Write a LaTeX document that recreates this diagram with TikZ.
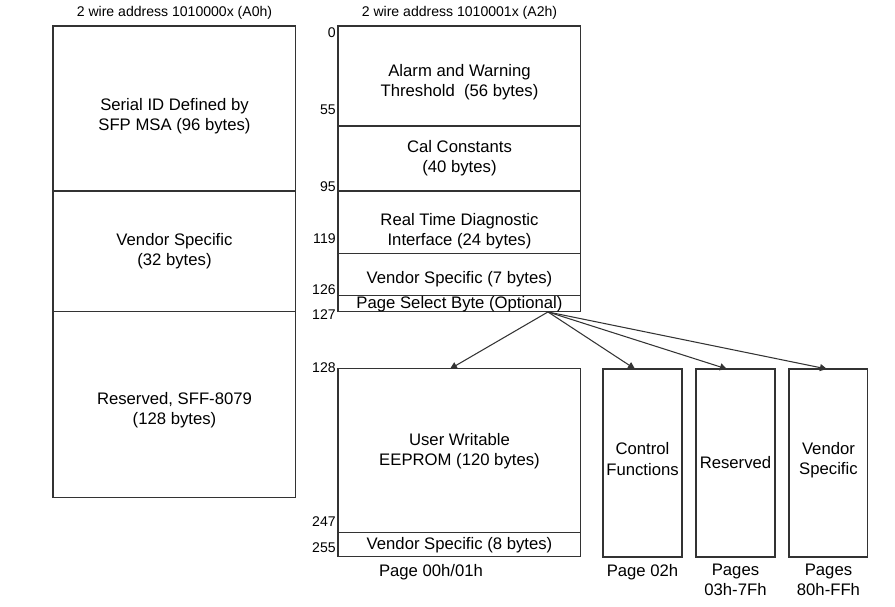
\documentclass[tikz,border=0pt]{standalone}
\usepackage{fontspec}
\setmainfont{Liberation Sans}
\usetikzlibrary{positioning,arrows.meta}
\newcommand{\txtdown}[1]{\rule{0pt}{#1}}
\tikzset{
  line/.style={-{Triangle[length=4pt,width=4pt]}, draw=black!80, line width=0.6pt},
  seg/.style={draw=black!80, line width=0.6pt, align=center, inner sep=0pt, outer sep=0pt,
    minimum width=4.86cm, font=\fontsize{9.5}{11.4}\selectfont},
  pagebox/.style={seg, minimum width=1.58cm, minimum height=3.76cm},
  addr/.style={anchor=east, inner sep=0pt, font=\fontsize{8}{9.6}\selectfont},
  title/.style={inner sep=0pt, font=\fontsize{8}{9.6}\selectfont},
  pagecap/.style={anchor=north, inner sep=0pt, align=center, font=\fontsize{9.5}{11.4}\selectfont},
  textup/.style={execute at end node={\rule[-#1]{0pt}{#1}}}
}
\begin{document}
\begin{tikzpicture}[x=0.02cm, y=-0.02cm, node distance=0pt]
  \useasboundingbox (0,0) rectangle (895,606);

  % A0h map
  \node[seg, minimum height=3.3cm, anchor=north west] (serial) at (53,26) {\txtdown{16pt}Serial ID Defined by\\SFP MSA (96 bytes)};
  \node[seg, minimum height=2.42cm, below=of serial] (vendA) {Vendor Specific\\(32 bytes)};
  \node[seg, minimum height=3.72cm, below=of vendA] (resA) {\txtdown{12.6pt}Reserved, SFF-8079\\(128 bytes)};
  \node[title, above=3.7pt of serial] (titleA) {2 wire address 1010000x (A0h)};

  % A2h map, lower half
  \node[seg, minimum height=2.0cm, anchor=north west] (alarm) at (338,26) {\txtdown{13.7pt}Alarm and Warning\\Threshold~~(56 bytes)};
  \node[seg, minimum height=1.3cm, below=of alarm] (cal) {Cal Constants\\(40 bytes)};
  \node[seg, minimum height=1.26cm, below=of cal] (rtd) {\txtdown{17pt}Real Time Diagnostic\\Interface (24 bytes)};
  \node[seg, minimum height=0.84cm, below=of rtd] (vendB) {\txtdown{11.5pt}Vendor Specific (7 bytes)};
  \node[seg, minimum height=0.32cm, below=of vendB] (pgsel) {Page Select Byte (Optional)};
  \node[title, above=3.7pt of alarm] (titleB) {2 wire address 1010001x (A2h)};

  % A2h map, upper pages
  \node[seg, minimum height=3.28cm, below=1.14cm of pgsel] (user) {User Writable\\EEPROM (120 bytes)};
  \node[seg, minimum height=0.48cm, below=of user] (vendC) {Vendor Specific (8 bytes)};
  \node[pagebox, textup=4.6pt, anchor=north west] (ctrl) at (603,369) {Control\\Functions};
  \node[pagebox, right=0.28cm of ctrl] (resB) {Reserved};
  \node[pagebox, textup=5.4pt, right=0.28cm of resB] (vendD) {Vendor\\Specific};

  % byte offsets
  \node[addr] (o0) at (336,33) {0};
  \node[addr] (o55) at (336,110) {55};
  \node[addr] (o95) at (336,187) {95};
  \node[addr] (o119) at (336,239) {119};
  \node[addr] (o126) at (336,290) {126};
  \node[addr] (o127) at (336,315) {127};
  \node[addr] (o128) at (336,368) {128};
  \node[addr] (o247) at (336,522) {247};
  \node[addr] (o255) at (336,548) {255};

  % captions
  \node[pagecap] (c00) at (431,564) {Page 00h/01h};
  \node[pagecap, below=0.14cm of ctrl] (c02) {Page 02h};
  \node[pagecap, below=0.14cm of resB] (c03) {Pages\\03h-7Fh};
  \node[pagecap, below=0.14cm of vendD] (c80) {Pages\\80h-FFh};

  \coordinate (fan) at ([xshift=-0.66cm]pgsel.south east);
  \draw[line] (fan) -- ([xshift=-0.19cm]user.north);
  \draw[line] (fan) -- ([xshift=-0.15cm]ctrl.north);
  \draw[line] (fan) -- ([xshift=-0.17cm]resB.north);
  \draw[line] (fan) -- ([xshift=-0.03cm]vendD.north);
\end{tikzpicture}
\end{document}
